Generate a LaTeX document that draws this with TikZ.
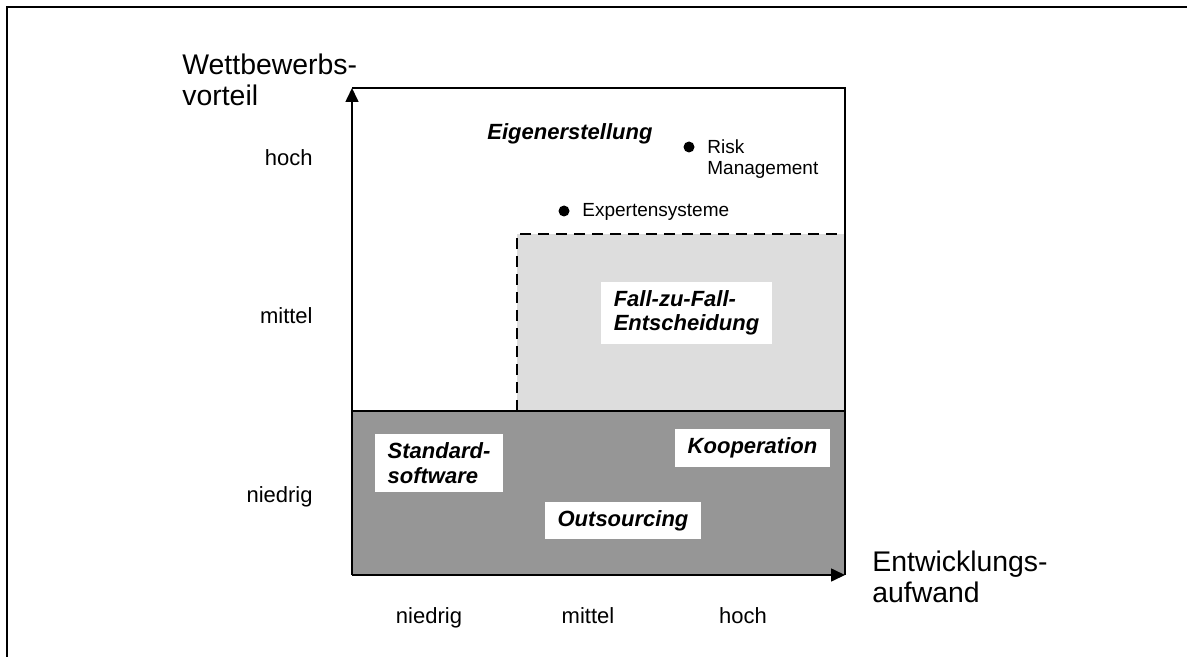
\documentclass[tikz,border=0pt]{standalone}
\usepackage{fontspec}
\setmainfont{Liberation Sans}
\usetikzlibrary{arrows.meta}
\definecolor{darkfield}{RGB}{150,150,150}
\definecolor{lightfield}{RGB}{221,221,221}

\begin{document}
\begin{tikzpicture}[x=0.5pt,y=-0.5pt,
		axis/.style={line width=0.8pt,-{Triangle[length=7pt,width=6.5pt]}},
		field/.style={fill=white,font=\fontsize{11}{12.2}\selectfont\bfseries\itshape,inner xsep=6.5pt,inner ysep=4.2pt,align=left},
		level/.style={font=\fontsize{11}{13}\selectfont,inner sep=0pt},
		title/.style={font=\fontsize{14.2}{15.5}\selectfont,align=left,inner sep=0pt,anchor=base west},
		example/.style={font=\fontsize{9.5}{10.5}\selectfont,align=left,inner sep=0pt,anchor=base west},
		dot/.style={circle,fill=black,inner sep=0pt,minimum size=5.5pt}]
			\useasboundingbox (0,0) rectangle (1187,657);
			\draw[line width=1.3pt] (7,657) -- (7,7) -- (1187,7);
			\coordinate (o) at (352,575);
			\coordinate (ytop) at (352,88);
			\coordinate (xend) at (845,575);
			\coordinate (corner) at (845,88);
			\coordinate (low) at (352,411);
			\coordinate (lowr) at (845,411);
			\coordinate (mid) at (517,411);
			\coordinate (midtop) at (517,234);
			\coordinate (midr) at (845,234);
			\fill[darkfield] (o) rectangle (lowr);
			\fill[lightfield] (mid) rectangle (midr);
			\draw[line width=0.8pt,dash pattern=on 5.5pt off 3.5pt] (mid) -- (midtop) -- (midr);
			\draw[line width=0.8pt] (low) -- (lowr);
			\draw[line width=0.8pt] (ytop) -- (corner) -- (xend);
			\draw[axis] (o) -- (ytop);
			\draw[axis] (o) -- (xend);
			\node[title] (ytitle) at (182,106) {Wettbewerbs-\\vorteil};
			\node[title] (xtitle) at (872,602) {Entwicklungs-\\aufwand};
			\node[level,anchor=base east] (yhigh) at (313,166) {hoch};
			\node[level,anchor=base east] (ymid) at (313,323) {mittel};
			\node[level,anchor=base east] (ylow) at (313,502) {niedrig};
			\node[level,anchor=base] (xlow) at (429,623) {niedrig};
			\node[level,anchor=base] (xmid) at (588,623) {mittel};
			\node[level,anchor=base] (xhigh) at (743,623) {hoch};
			\node[field,fill=none,inner sep=0pt,anchor=base west] (own) at (487,140) {Eigenerstellung};
			\node[field] (standard) at (439,463) {Standard-\\software};
			\node[field] (koop) at (752.5,448) {Kooperation};
			\node[field] (outs) at (623,520.5) {Outsourcing};
			\node[field] (fall) at (686.5,313) {Fall-zu-Fall-\\Entscheidung};
			\node[dot] (risk) at (689,147) {};
			\node[example] (risklabel) at (707,175) {Risk\\Management};
			\node[dot] (expert) at (564,211) {};
			\node[example] (expertlabel) at (582,217) {Expertensysteme};
\end{tikzpicture}
\end{document}
